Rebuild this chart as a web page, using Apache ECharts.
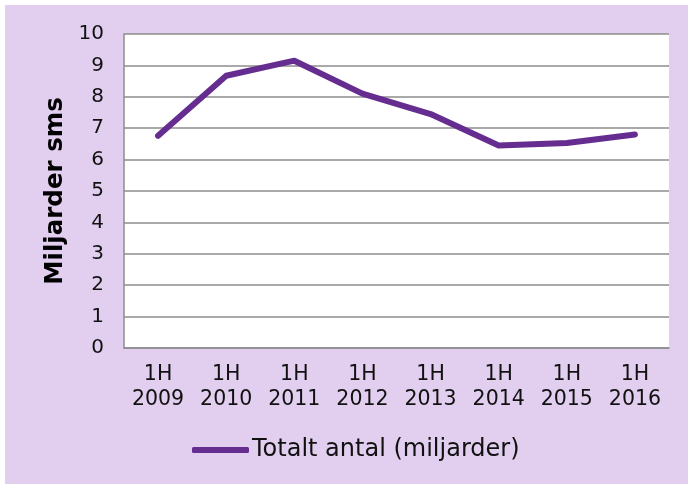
<!DOCTYPE html>
<html>
<head>
<meta charset="utf-8">
<script src="https://cdn.jsdelivr.net/npm/echarts@6/dist/echarts.min.js"></script>
<style>
  html, body { margin: 0; padding: 0; background: #ffffff; }
  #chart { position: absolute; left: 5px; top: 5px; width: 683px; height: 479px; }
</style>
</head>
<body>
<div id="chart"></div>
<script>
const categories = ['1H\n2009', '1H\n2010', '1H\n2011', '1H\n2012', '1H\n2013', '1H\n2014', '1H\n2015', '1H\n2016'];
const totalValues = [6.76, 8.67, 9.15, 8.1, 7.45, 6.45, 6.53, 6.8];
const seriesName = 'Totalt antal (miljarder)';
const yAxisTitle = 'Miljarder sms';

const font = 'DejaVu Sans, Verdana, sans-serif';
const purple = '#662d91';
const chart = echarts.init(document.getElementById('chart'));

chart.setOption({
  animation: false,
  backgroundColor: '#e2cfef',
  grid: {
    left: 119,
    right: 19,
    top: 29,
    bottom: 136,
    backgroundColor: '#ffffff',
    show: true,
    borderWidth: 0,
  },
  legend: {
    left: 182,
    top: 428,
    itemWidth: 57,
    itemHeight: 6,
    itemGap: 2,
    icon: 'roundRect',
    textStyle: { fontFamily: font, fontSize: 24, color: '#111111', padding: [0, 0, 0, -2] },
    data: [seriesName],
  },
  xAxis: {
    type: 'category',
    data: categories,
    boundaryGap: true,
    axisLine: { lineStyle: { color: '#8c8c8c', width: 1.5 } },
    axisTick: { inside: true, length: 6, lineStyle: { color: '#8c8c8c', width: 1.5 } },
    axisLabel: {
      fontFamily: font,
      fontSize: 20.5,
      color: '#111111',
      margin: 14,
      lineHeight: 25,
      interval: 0,
    },
  },
  yAxis: {
    type: 'value',
    min: 0,
    max: 10,
    interval: 1,
    name: yAxisTitle,
    nameLocation: 'middle',
    nameGap: 54,
    nameRotate: 90,
    nameTextStyle: { fontFamily: font, fontSize: 24.5, fontWeight: 'bold', color: '#000000' },
    axisLine: { show: true, lineStyle: { color: '#8c8c8c', width: 1.5 } },
    axisTick: { show: false },
    axisLabel: { fontFamily: font, fontSize: 20, color: '#111111', margin: 20 },
    splitLine: { lineStyle: { color: '#8c8c8c', width: 1.5 } },
  },
  series: [
    {
      name: seriesName,
      type: 'line',
      data: totalValues,
      symbol: 'none',
      lineStyle: { color: purple, width: 6, cap: 'round', join: 'round' },
      itemStyle: { color: purple },
    },
  ],
});
</script>
</body>
</html>
